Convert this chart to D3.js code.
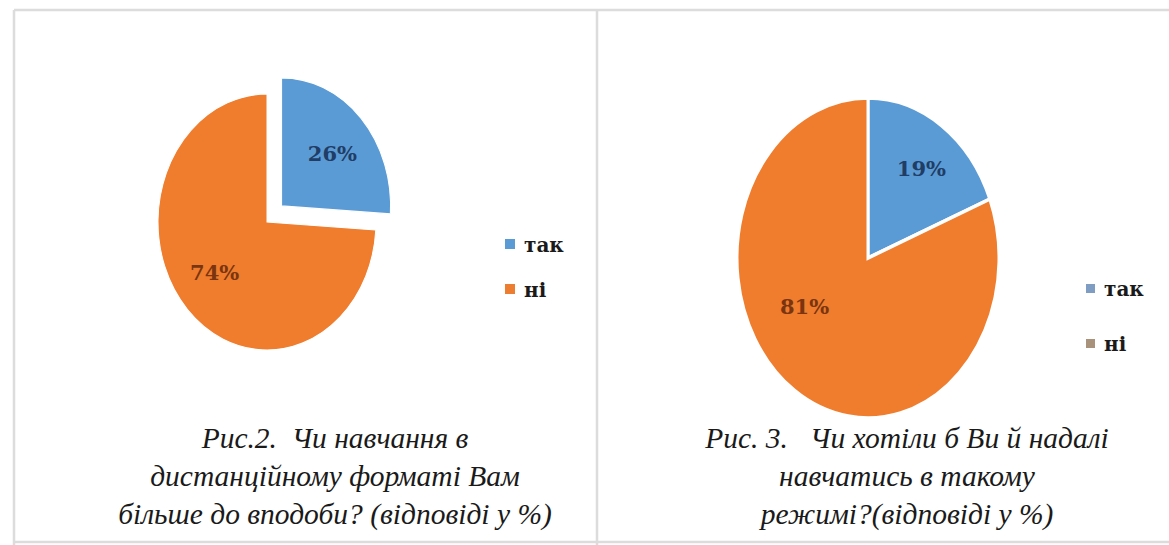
<!DOCTYPE html>
<html>
<head>
<meta charset="utf-8">
<script src="https://cdn.jsdelivr.net/npm/d3@7"></script>
<style>
  html, body { margin: 0; padding: 0; background: #fff; }
  svg { display: block; }
  .caption { font-family: "Liberation Serif", "Times New Roman", serif; font-style: italic; white-space: pre; fill: #1a1a1a; }
  .legend text { font-family: "DejaVu Serif", serif; fill: #1a1a1a; }
  .pct { font-family: "DejaVu Serif", serif; font-weight: bold; }
</style>
</head>
<body>
<svg id="chart" width="1169" height="545"></svg>
<script>
// дані
const categories = ["так", "ні"];
const fig2Values = [26, 74];
const fig3Values = [19, 81];
const fig2Caption = ["Рис.2.  Чи навчання в", "дистанційному форматі Вам", "більше до вподоби? (відповіді у %)"];
const fig3Caption = ["Рис. 3.   Чи хотіли б Ви й надалі", "навчатись в такому", "режимі?(відповіді у %)"];

const sliceColors = ["#5b9bd5", "#ef7d2d"];
const labelColors = ["#203d66", "#7a3510"];

const svg = d3.select("#chart");

// рамка
const frame = svg.append("g").attr("stroke", "#dcdcdc").attr("stroke-width", 2.5);
frame.append("line").attr("x1", 14).attr("x2", 1169).attr("y1", 10).attr("y2", 10);
frame.append("line").attr("x1", 14).attr("x2", 14).attr("y1", 10).attr("y2", 545);
frame.append("line").attr("x1", 597).attr("x2", 597).attr("y1", 10).attr("y2", 545);
frame.append("line").attr("x1", 14).attr("x2", 1169).attr("y1", 542).attr("y2", 542);

function drawPie(opts) {
    const data = categories.map((c, i) => ({ cat: c, value: opts.values[i], i }));
    const pie = d3.pie().sort(null).value(d => d.value);
    const arcs = pie(data);
    const k = opts.ry / opts.rx; // еліпс
    const arc = d3.arc().innerRadius(0).outerRadius(opts.rx);

    const g = svg.append("g").attr("transform", `translate(${opts.cx},${opts.cy}) scale(1,${k})`);
    g.selectAll("path")
        .data(arcs)
        .enter().append("path")
        .attr("transform", d => {
            if (d.index !== opts.explode) return null;
            const a = (d.startAngle + d.endAngle) / 2;
            return `translate(${opts.explodeDist * Math.sin(a)},${-opts.explodeDist * Math.cos(a)})`;
        })
        .attr("d", arc)
        .attr("fill", d => sliceColors[d.index])
        .attr("stroke", "#fff")
        .attr("stroke-width", opts.strokeW);

    // підписи відсотків
    svg.selectAll(null)
        .data(arcs)
        .enter().append("text")
        .attr("class", "pct")
        .attr("text-anchor", "middle")
        .attr("dominant-baseline", "central")
        .attr("font-size", opts.pctSize)
        .attr("fill", d => labelColors[d.index])
        .attr("transform", d => {
            let a = (d.startAngle + d.endAngle) / 2 + opts.labelShift[d.index] * Math.PI / 180;
            let r = opts.rx * opts.labelR[d.index];
            let x = r * Math.sin(a), y = -r * Math.cos(a);
            if (d.index === opts.explode) {
                const m = (d.startAngle + d.endAngle) / 2;
                x += opts.explodeDist * Math.sin(m);
                y -= opts.explodeDist * Math.cos(m);
            }
            return `translate(${opts.cx + x},${opts.cy + y * k})`;
        })
        .text(d => d.data.value + "%");

    // легенда
    const lg = svg.append("g").attr("class", "legend")
        .attr("transform", `translate(${opts.legendX},${opts.legendY})`);
    const items = lg.selectAll("g").data(categories).enter().append("g")
        .attr("transform", (d, i) => `translate(0,${i * opts.legendGap})`);
    items.append("rect")
        .attr("x", 0).attr("y", -opts.sq - 3)
        .attr("width", opts.sq).attr("height", opts.sq)
        .attr("fill", (d, i) => opts.legendColors[i]);
    items.append("text")
        .attr("x", opts.sq + 9)
        .attr("font-size", opts.legendSize)
        .attr("font-weight", 600)
        .text(d => d);

    // підпис рисунка
    svg.append("text")
        .attr("class", "caption")
        .attr("text-anchor", "middle")
        .attr("font-size", opts.capSize)
        .selectAll("tspan")
        .data(opts.caption)
        .enter().append("tspan")
        .attr("x", opts.capX)
        .attr("y", (d, i) => opts.capY + i * 38)
        .text(d => d);
}

drawPie({
    values: fig2Values, cx: 267, cy: 222, rx: 109, ry: 128,
    explode: 0, explodeDist: 20, strokeW: 1,
    labelR: [0.62, 0.62], labelShift: [2, 4], pctSize: 21,
    legendX: 505, legendY: 252, legendGap: 45, sq: 10, legendSize: 20,
    legendColors: ["#5b9bd5", "#ed7d31"],
    caption: fig2Caption, capX: 335, capY: 448, capSize: 29.5
});

drawPie({
    values: fig3Values, cx: 868, cy: 258, rx: 131, ry: 160,
    explode: -1, explodeDist: 0, strokeW: 3,
    labelR: [0.69, 0.57], labelShift: [2, 24], pctSize: 21,
    legendX: 1086, legendY: 296, legendGap: 55, sq: 9, legendSize: 20,
    legendColors: ["#7f9cc2", "#a8927c"],
    caption: fig3Caption, capX: 907, capY: 448, capSize: 29.5
});
</script>
</body>
</html>
